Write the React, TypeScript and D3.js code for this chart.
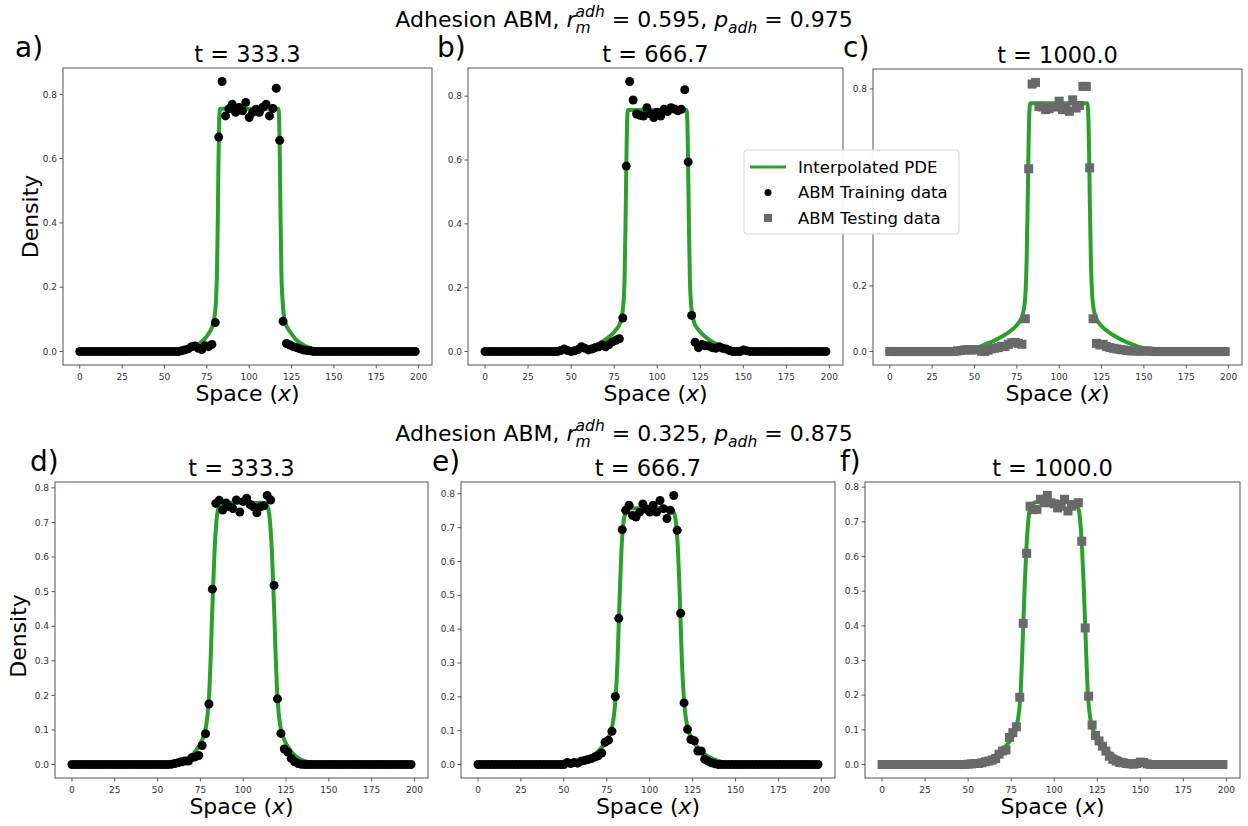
import React, { useEffect, useRef } from 'react';
import * as d3 from 'd3';

const W = 1248;
const H = 826;
const GREEN = '#2ca02c';
const GREY = '#696969';
const FONT = '"DejaVu Sans", Verdana, sans-serif';

// ABM samples sit every 2 units of space, 0..198
const spaceGrid = d3.range(0, 200, 2);
const xTicks = [0, 25, 50, 75, 100, 125, 150, 175, 200];
const yTicksTop = [0, 0.2, 0.4, 0.6, 0.8];
const yTicksBottom = [0, 0.1, 0.2, 0.3, 0.4, 0.5, 0.6, 0.7, 0.8];
const timeLabels = ['333.3', '666.7', '1000.0'];
const panelLetters = ['a)', 'b)', 'c)', 'd)', 'e)', 'f)'];
const rowParams = [
  { r: '0.595', p: '0.975' },
  { r: '0.325', p: '0.875' },
];
const legendLabels = ['Interpolated PDE', 'ABM Training data', 'ABM Testing data'];

// top row, r = 0.595
const abmA = [
  0, 0, 0, 0, 0, 0, 0, 0, 0, 0,
  0, 0, 0, 0, 0, 0, 0, 0, 0, 0,
  0, 0, 0, 0, 0, 0, 0, 0, 0, 0,
  0.002, 0.005, 0.008, 0.015, 0.017, 0.01, 0.006, 0.018, 0.015, 0.022,
  0.09, 0.667, 0.84, 0.733, 0.755, 0.769, 0.744, 0.759, 0.749, 0.775,
  0.728, 0.744, 0.754, 0.744, 0.76, 0.769, 0.733, 0.756, 0.819, 0.657,
  0.094, 0.025, 0.02, 0.015, 0.012, 0.008, 0.005, 0.003, 0.002, 0,
  0, 0, 0, 0, 0, 0, 0, 0, 0, 0,
  0, 0, 0, 0, 0, 0, 0, 0, 0, 0,
  0, 0, 0, 0, 0, 0, 0, 0, 0, 0,
];
const abmB = [
  0, 0, 0, 0, 0, 0, 0, 0, 0, 0,
  0, 0, 0, 0, 0, 0, 0, 0, 0, 0,
  0, 0, 0.003, 0.008, 0.003, 0, 0.002, 0.006, 0.015, 0.01,
  0.005, 0.008, 0.012, 0.015, 0.02, 0.015, 0.022, 0.03, 0.035, 0.04,
  0.105, 0.581, 0.846, 0.788, 0.744, 0.74, 0.738, 0.764, 0.745, 0.733,
  0.75, 0.738, 0.759, 0.752, 0.764, 0.76, 0.754, 0.759, 0.82, 0.594,
  0.113, 0.029, 0.012, 0.022, 0.018, 0.017, 0.012, 0.01, 0.015, 0.01,
  0.008, 0.003, 0, 0, 0, 0.005, 0.002, 0, 0, 0,
  0, 0, 0, 0, 0, 0, 0, 0, 0, 0,
  0, 0, 0, 0, 0, 0, 0, 0, 0, 0,
];
const abmC = [
  0, 0, 0, 0, 0, 0, 0, 0, 0, 0,
  0, 0, 0, 0, 0, 0, 0, 0, 0, 0,
  0.002, 0.003, 0.005, 0.006, 0.004, 0.006, 0.006, 0.001, 0, 0.004,
  0.008, 0.01, 0.012, 0.016, 0.015, 0.022, 0.027, 0.028, 0.025, 0.022,
  0.1, 0.557, 0.815, 0.82, 0.747, 0.745, 0.737, 0.74, 0.747, 0.745,
  0.763, 0.737, 0.745, 0.732, 0.767, 0.742, 0.75, 0.808, 0.808, 0.56,
  0.1, 0.025, 0.02, 0.022, 0.015, 0.012, 0.01, 0.008, 0.006, 0.005,
  0.003, 0.002, 0.002, 0.002, 0.001, 0.002, 0.002, 0.001, 0, 0,
  0, 0, 0, 0, 0, 0, 0, 0, 0, 0,
  0, 0, 0, 0, 0, 0, 0, 0, 0, 0,
];
// bottom row, r = 0.325
const abmD = [
  0, 0, 0, 0, 0, 0, 0, 0, 0, 0,
  0, 0, 0, 0, 0, 0, 0, 0, 0, 0,
  0, 0, 0, 0, 0, 0, 0, 0, 0, 0.001,
  0.003, 0.005, 0.008, 0.01, 0.01, 0.02, 0.022, 0.026, 0.055, 0.089,
  0.175, 0.507, 0.755, 0.764, 0.736, 0.756, 0.745, 0.74, 0.765, 0.73,
  0.76, 0.77, 0.752, 0.745, 0.728, 0.745, 0.748, 0.778, 0.765, 0.518,
  0.19, 0.09, 0.045, 0.036, 0.018, 0.008, 0.003, 0.001, 0, 0,
  0, 0, 0, 0, 0, 0, 0, 0, 0, 0,
  0, 0, 0, 0, 0, 0, 0, 0, 0, 0,
  0, 0, 0, 0, 0, 0, 0, 0, 0, 0,
];
const abmE = [
  0, 0, 0, 0, 0, 0, 0, 0, 0, 0,
  0, 0, 0, 0, 0, 0, 0, 0, 0, 0,
  0, 0, 0, 0, 0, 0, 0.006, 0.003, 0.006, 0.004,
  0.01, 0.012, 0.015, 0.018, 0.022, 0.026, 0.034, 0.066, 0.072, 0.098,
  0.201, 0.432, 0.694, 0.751, 0.766, 0.736, 0.731, 0.745, 0.77, 0.755,
  0.746, 0.766, 0.746, 0.78, 0.756, 0.727, 0.751, 0.795, 0.692, 0.447,
  0.182, 0.104, 0.074, 0.07, 0.04, 0.04, 0.016, 0.01, 0.005, 0.002,
  0, 0, 0, 0, 0, 0, 0, 0, 0, 0,
  0, 0, 0, 0, 0, 0, 0, 0, 0, 0,
  0, 0, 0, 0, 0, 0, 0, 0, 0, 0,
];
const abmF = [
  0, 0, 0, 0, 0, 0, 0, 0, 0, 0,
  0, 0, 0, 0, 0, 0, 0, 0, 0, 0,
  0, 0, 0, 0, 0, 0.001, 0.002, 0.003, 0.003, 0.005,
  0.008, 0.01, 0.013, 0.017, 0.03, 0.039, 0.042, 0.078, 0.092, 0.109,
  0.194, 0.407, 0.609, 0.745, 0.735, 0.736, 0.765, 0.755, 0.776, 0.755,
  0.752, 0.74, 0.745, 0.765, 0.731, 0.745, 0.75, 0.755, 0.644, 0.394,
  0.197, 0.114, 0.084, 0.068, 0.053, 0.039, 0.024, 0.015, 0.01, 0.006,
  0.005, 0.003, 0.002, 0.001, 0.003, 0.007, 0.006, 0.002, 0, 0,
  0, 0, 0, 0, 0, 0, 0, 0, 0, 0,
  0, 0, 0, 0, 0, 0, 0, 0, 0, 0,
];

// interpolated PDE curves as (x, density)
const pdeA = [
  [0, 0], [50, 0], [58, 0.002], [63, 0.006], [67, 0.013], [70, 0.022], [73, 0.035], [76, 0.055],
  [78, 0.075], [79.3, 0.1], [80.3, 0.15], [81, 0.25], [81.5, 0.42], [81.9, 0.6], [82.3, 0.72],
  [82.8, 0.755], [117.2, 0.755], [117.7, 0.72], [118.1, 0.6], [118.5, 0.42], [119, 0.25],
  [119.8, 0.15], [120.8, 0.1], [122.5, 0.075], [125, 0.055], [128, 0.035], [131.5, 0.022],
  [135, 0.013], [140, 0.006], [146, 0.002], [155, 0], [198, 0],
];
const pdeB = [
  [0, 0], [42, 0], [50, 0.002], [56, 0.007], [61, 0.014], [65, 0.022], [69, 0.034], [73, 0.05],
  [76, 0.068], [78.5, 0.09], [80, 0.13], [81, 0.22], [81.6, 0.4], [82.1, 0.6], [82.5, 0.72],
  [83, 0.757], [117, 0.757], [117.5, 0.72], [117.9, 0.6], [118.4, 0.4], [119, 0.22], [120, 0.13],
  [121.5, 0.09], [124, 0.068], [127, 0.05], [131, 0.034], [135, 0.022], [139, 0.014], [144, 0.007],
  [150, 0.002], [158, 0], [198, 0],
];
const pdeC = [
  [0, 0], [36, 0], [44, 0.003], [50, 0.009], [56, 0.021], [62, 0.034], [67, 0.048], [71, 0.062],
  [74.5, 0.078], [77, 0.095], [78.8, 0.12], [80, 0.17], [80.8, 0.28], [81.4, 0.45], [81.9, 0.62],
  [82.4, 0.73], [83, 0.757], [116.5, 0.757], [117.1, 0.73], [117.6, 0.62], [118.1, 0.45],
  [118.7, 0.28], [119.5, 0.17], [120.7, 0.12], [122.5, 0.095], [125, 0.078], [128.5, 0.062],
  [132.5, 0.048], [137.5, 0.034], [143.5, 0.021], [150, 0.009], [156, 0.003], [164, 0], [198, 0],
];
const pdeD = [
  [0, 0], [48, 0], [55, 0.002], [60, 0.005], [64, 0.01], [67.5, 0.018], [71, 0.032], [74, 0.052],
  [76.5, 0.078], [78.3, 0.11], [79.5, 0.16], [80.3, 0.22], [81.1, 0.32], [81.8, 0.43], [82.5, 0.52],
  [83.2, 0.61], [84, 0.68], [85, 0.73], [86.5, 0.752], [88.5, 0.757], [111.5, 0.757], [113.5, 0.752],
  [115, 0.73], [116, 0.68], [116.8, 0.61], [117.5, 0.52], [118.2, 0.43], [118.9, 0.32], [119.7, 0.22],
  [120.5, 0.16], [121.7, 0.11], [123.5, 0.078], [126, 0.052], [129, 0.032], [132.5, 0.018],
  [136, 0.01], [140, 0.005], [145, 0.002], [152, 0], [198, 0],
];
const pdeE = [
  [0, 0], [44, 0], [52, 0.003], [58, 0.008], [63, 0.016], [67, 0.027], [70.5, 0.042], [73.5, 0.06],
  [76, 0.08], [78, 0.11], [79.3, 0.15], [80.3, 0.21], [81.2, 0.3], [82, 0.42], [82.8, 0.54],
  [83.6, 0.64], [84.5, 0.705], [85.6, 0.74], [87.5, 0.755], [90, 0.757], [110, 0.757], [112.5, 0.755],
  [114.4, 0.74], [115.5, 0.705], [116.4, 0.64], [117.2, 0.54], [118, 0.42], [118.8, 0.3], [119.7, 0.21],
  [120.7, 0.15], [122, 0.11], [124, 0.08], [126.5, 0.06], [129.5, 0.042], [133, 0.027], [137, 0.016],
  [142, 0.008], [148, 0.003], [156, 0], [198, 0],
];
const pdeF = [
  [0, 0], [40, 0], [48, 0.002], [54, 0.006], [59, 0.012], [63.5, 0.021], [67.5, 0.033], [71, 0.048],
  [74, 0.066], [76.5, 0.088], [78.3, 0.115], [79.5, 0.15], [80.4, 0.2], [81.2, 0.29], [82, 0.4],
  [82.9, 0.52], [83.8, 0.62], [84.7, 0.69], [85.8, 0.735], [87.5, 0.752], [90, 0.757], [110, 0.757],
  [112.5, 0.752], [114.2, 0.735], [115.3, 0.69], [116.2, 0.62], [117.1, 0.52], [118, 0.4],
  [118.8, 0.29], [119.6, 0.2], [120.5, 0.15], [121.7, 0.115], [123.5, 0.088], [126, 0.066],
  [129, 0.048], [132.5, 0.033], [136.5, 0.021], [141, 0.012], [146, 0.006], [152, 0.002], [160, 0],
  [198, 0],
];

const panelData = [
  { abm: abmA, pde: pdeA, testing: false },
  { abm: abmB, pde: pdeB, testing: false },
  { abm: abmC, pde: pdeC, testing: true },
  { abm: abmD, pde: pdeD, testing: false },
  { abm: abmE, pde: pdeE, testing: false },
  { abm: abmF, pde: pdeF, testing: true },
];

// axes boxes in pixels
const boxes = [
  { left: 63, top: 68, width: 369, height: 297 },
  { left: 468, top: 68, width: 375, height: 297 },
  { left: 873, top: 69, width: 369, height: 296 },
  { left: 55, top: 482, width: 373, height: 296 },
  { left: 461, top: 482, width: 374, height: 296 },
  { left: 865, top: 482, width: 375, height: 296 },
];
const letterX = [15, 437, 843, 30, 432, 840];
const legendBox = { x: 744, y: 150, w: 215, h: 84 };

export default function App() {
  const ref = useRef<SVGSVGElement>(null);

  useEffect(() => {
    document.body.style.margin = '0';
    const svg = d3.select(ref.current);
    svg.selectAll('*').remove();
    svg.append('rect').attr('width', W).attr('height', H).attr('fill', '#fff');

    const line = d3.line<number[]>()
      .x((d) => d[0])
      .y((d) => d[1])
      .curve(d3.curveMonotoneX);

    const underLegend = (px: number, py: number) =>
      px > legendBox.x && px < legendBox.x + legendBox.w + 30 &&
      py > legendBox.y - 4 && py < legendBox.y + legendBox.h + 4;

    panelData.forEach((pd, i) => {
      const b = boxes[i];
      const top = i < 3;
      const ymax = d3.max([...pd.abm, ...pd.pde.map((p) => p[1])]) as number;
      const x = d3.scaleLinear().domain([-9.9, 207.9]).range([b.left, b.left + b.width]);
      const y = d3.scaleLinear().domain([-0.05 * ymax, ymax * 1.05]).range([b.top + b.height, b.top]);
      const g = svg.append('g');

      // pde curve
      g.append('path')
        .attr('d', line(pd.pde.map((p) => [x(p[0]), y(p[1])])))
        .attr('fill', 'none')
        .attr('stroke', GREEN)
        .attr('stroke-width', 4)
        .attr('stroke-linejoin', 'round');

      // abm points
      const pts = spaceGrid.map((s, k) => [s, pd.abm[k]]);
      if (pd.testing) {
        g.selectAll('rect.pt').data(pts).enter().append('rect')
          .attr('class', 'pt')
          .attr('x', (d) => x(d[0]) - 4.5)
          .attr('y', (d) => y(d[1]) - 4.5)
          .attr('width', 9)
          .attr('height', 9)
          .attr('fill', GREY);
      } else {
        g.selectAll('circle.pt').data(pts).enter().append('circle')
          .attr('class', 'pt')
          .attr('cx', (d) => x(d[0]))
          .attr('cy', (d) => y(d[1]))
          .attr('r', 4.5)
          .attr('fill', '#000');
      }

      // spines
      g.append('rect')
        .attr('x', b.left).attr('y', b.top)
        .attr('width', b.width).attr('height', b.height)
        .attr('fill', 'none').attr('stroke', '#555').attr('stroke-width', 1);

      // x axis
      const bottom = b.top + b.height;
      xTicks.forEach((t) => {
        g.append('line')
          .attr('x1', x(t)).attr('x2', x(t))
          .attr('y1', bottom).attr('y2', bottom + 3.5)
          .attr('stroke', '#555');
        g.append('text')
          .attr('x', x(t)).attr('y', bottom + 15)
          .attr('text-anchor', 'middle')
          .attr('font-family', FONT).attr('font-size', 9)
          .attr('fill', '#333')
          .text(String(t));
      });

      // y axis (labels hidden behind the legend are left out)
      const yt = top ? yTicksTop : yTicksBottom;
      yt.forEach((t) => {
        g.append('line')
          .attr('x1', b.left - 3.5).attr('x2', b.left)
          .attr('y1', y(t)).attr('y2', y(t))
          .attr('stroke', '#555');
        if (underLegend(b.left - 10, y(t))) return;
        g.append('text')
          .attr('x', b.left - 6).attr('y', y(t))
          .attr('dy', '0.35em')
          .attr('text-anchor', 'end')
          .attr('font-family', FONT).attr('font-size', 9)
          .attr('fill', '#333')
          .text(t.toFixed(1));
      });

      // title and panel letter
      g.append('text')
        .attr('x', b.left + b.width / 2).attr('y', b.top - 6)
        .attr('text-anchor', 'middle')
        .attr('font-family', FONT).attr('font-size', 22.5)
        .text('t = ' + timeLabels[i % 3]);
      g.append('text')
        .attr('x', letterX[i]).attr('y', top ? 57 : 471)
        .attr('font-family', FONT).attr('font-size', 28)
        .text(panelLetters[i]);

      // x label
      const xl = g.append('text')
        .attr('x', b.left + b.width / 2).attr('y', bottom + 36)
        .attr('text-anchor', 'middle')
        .attr('font-family', FONT).attr('font-size', 22);
      xl.append('tspan').text('Space (');
      xl.append('tspan').attr('font-style', 'italic').text('x');
      xl.append('tspan').text(')');

      if (i % 3 === 0) {
        const cy = b.top + b.height / 2 + (top ? 0 : 6);
        const cx = top ? 30 : 18;
        g.append('text')
          .attr('transform', `translate(${cx},${cy}) rotate(-90)`)
          .attr('dy', '0.35em')
          .attr('text-anchor', 'middle')
          .attr('font-family', FONT).attr('font-size', 22)
          .text('Density');
      }
    });

    // row titles with math
    rowParams.forEach((rp, r) => {
      const g = svg.append('g')
        .attr('font-family', FONT)
        .style('white-space', 'pre');
      let cx = 0;
      const put = (t: string, size: number, italic: boolean, dy: number) => {
        const el = g.append('text')
          .attr('x', cx).attr('y', dy)
          .attr('font-size', size)
          .attr('font-style', italic ? 'italic' : 'normal')
          .style('white-space', 'pre')
          .text(t);
        return (el.node() as SVGTextElement).getComputedTextLength();
      };
      cx += put('Adhesion ABM, ', 22, false, 0);
      cx += put('r', 22, true, 0);
      const wSup = put('adh', 15.5, true, -10);
      const wSub = put('m', 15.5, true, 6);
      cx += Math.max(wSup, wSub);
      cx += put(' = ' + rp.r + ', ', 22, false, 0);
      cx += put('p', 22, true, 0);
      cx += put('adh', 15.5, true, 6);
      cx += put(' = ' + rp.p, 22, false, 0);
      const baseline = r === 0 ? 27 : 441;
      g.attr('transform', `translate(${624 - cx / 2},${baseline})`);
    });

    // legend
    const lg = svg.append('g');
    const lx = legendBox.x;
    const ly = legendBox.y;
    lg.append('rect')
      .attr('x', lx).attr('y', ly)
      .attr('width', legendBox.w).attr('height', legendBox.h)
      .attr('rx', 3)
      .attr('fill', '#fff').attr('fill-opacity', 0.92)
      .attr('stroke', '#d5d5d5');
    const rowY = [ly + 17, ly + 42.5, ly + 68];
    lg.append('line')
      .attr('x1', lx + 6).attr('x2', lx + 42)
      .attr('y1', rowY[0]).attr('y2', rowY[0])
      .attr('stroke', GREEN).attr('stroke-width', 3);
    lg.append('circle')
      .attr('cx', lx + 24).attr('cy', rowY[1]).attr('r', 3.5).attr('fill', '#000');
    lg.append('rect')
      .attr('x', lx + 20).attr('y', rowY[2] - 4).attr('width', 8).attr('height', 8).attr('fill', GREY);
    legendLabels.forEach((t, k) => {
      lg.append('text')
        .attr('x', lx + 54).attr('y', rowY[k])
        .attr('dy', '0.35em')
        .attr('font-family', FONT).attr('font-size', 16.5)
        .text(t);
    });
  }, []);

  return <svg ref={ref} width={W} height={H} style={{ display: 'block' }} />;
}
